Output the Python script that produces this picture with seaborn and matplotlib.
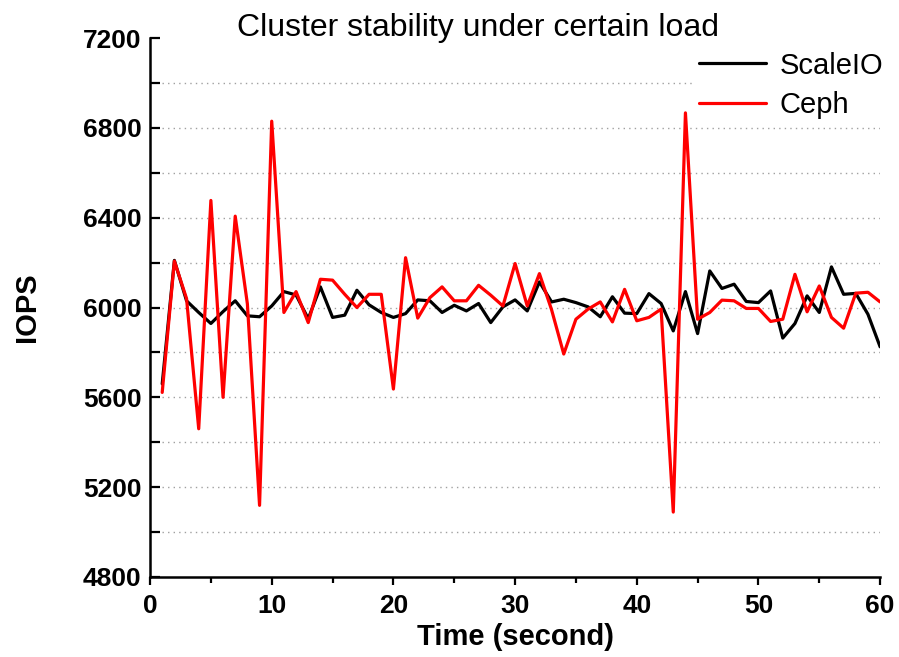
import numpy as np
import pandas as pd
import matplotlib
matplotlib.use("Agg")
import matplotlib.pyplot as plt
from matplotlib.ticker import MultipleLocator
import seaborn as sns

# time axis (seconds)
seconds = list(range(1, 61))

# IOPS
scaleio_iops = [5660, 6210, 6030, 5978, 5929, 5982, 6030, 5963, 5959, 6007,
                6071, 6056, 5950, 6092, 5956, 5966, 6077, 6012, 5978, 5956,
                5973, 6034, 6030, 5978, 6010, 5985, 6018, 5933, 6003, 6034,
                5985, 6114, 6025, 6037, 6022, 6003, 5959, 6048, 5975, 5973,
                6062, 6018, 5896, 6071, 5884, 6163, 6085, 6104, 6027, 6022,
                6074, 5864, 5929, 6052, 5978, 6181, 6059, 6063, 5970, 5825]
ceph_iops = [5622, 6207, 6040, 5460, 6477, 5600, 6407, 6016, 5119, 6830,
             5978, 6071, 5933, 6126, 6122, 6059, 6000, 6059, 6059, 5637,
             6222, 5953, 6044, 6092, 6030, 6030, 6099, 6055, 6007, 6196,
             6007, 6151, 5990, 5793, 5948, 5993, 6025, 5936, 6081, 5941,
             5956, 5993, 5089, 6867, 5948, 5978, 6033, 6030, 5996, 5996,
             5938, 5948, 6148, 5981, 6096, 5956, 5908, 6064, 6068, 6025]

series_names = ["ScaleIO", "Ceph"]
series_colors = {"ScaleIO": "black", "Ceph": "#ff0000"}

df = pd.DataFrame({
    "Time": seconds * 2,
    "IOPS": scaleio_iops + ceph_iops,
    "System": ["ScaleIO"] * len(seconds) + ["Ceph"] * len(seconds),
})

sns.set_style("ticks")
plt.rcParams["font.family"] = ["Liberation Sans", "DejaVu Sans"]
plt.rcParams["text.color"] = "black"
plt.rcParams["axes.labelcolor"] = "black"
plt.rcParams["xtick.color"] = "black"
plt.rcParams["ytick.color"] = "black"
plt.rcParams["axes.edgecolor"] = "black"

fig = plt.figure(figsize=(8.99, 6.57), dpi=100)
ax = fig.add_axes([0.1669, 0.1218, 0.8121, 0.8202])

# dotted grid every 200
for level in np.arange(5000, 7001, 200):
    ax.axhline(level, xmin=0.016, color="#a0a0a0", ls=(0, (1, 3)), lw=1.0, zorder=0)

sns.lineplot(data=df, x="Time", y="IOPS", hue="System", hue_order=series_names,
             palette=series_colors, linewidth=2.3, ax=ax)

ax.set_xlim(0, 60)
ax.set_ylim(4800, 7200)
ax.xaxis.set_major_locator(MultipleLocator(10))
ax.xaxis.set_minor_locator(MultipleLocator(5))
ax.yaxis.set_major_locator(MultipleLocator(400))
ax.yaxis.set_minor_locator(MultipleLocator(200))

sns.despine(ax=ax)
for sp in ax.spines.values():
    sp.set_linewidth(1.8)

ax.tick_params(axis="y", which="both", direction="in", length=7, width=1.6)
ax.tick_params(axis="x", which="major", direction="out", length=6, width=1.6)
ax.tick_params(axis="x", which="minor", direction="out", length=4, width=1.6)
ax.tick_params(axis="both", which="major", labelsize=19, pad=6)
for lab in ax.get_xticklabels() + ax.get_yticklabels():
    lab.set_fontweight("bold")

ax.set_xlabel("Time (second)", fontsize=21, fontweight="bold", labelpad=4)
ax.set_ylabel("IOPS", fontsize=21, fontweight="bold", labelpad=30)

fig.text(0.532, 0.945, "Cluster stability under certain load", fontsize=23,
         ha="center", va="baseline")

leg = ax.legend(loc="upper right", bbox_to_anchor=(1.03, 1.01), fontsize=21,
                frameon=True, facecolor="white", edgecolor="none", framealpha=1,
                handlelength=2.3, handletextpad=0.45, labelspacing=0.4,
                borderpad=0.15, fancybox=False)
leg.set_zorder(1)

fig.savefig("out.png", dpi=100)
